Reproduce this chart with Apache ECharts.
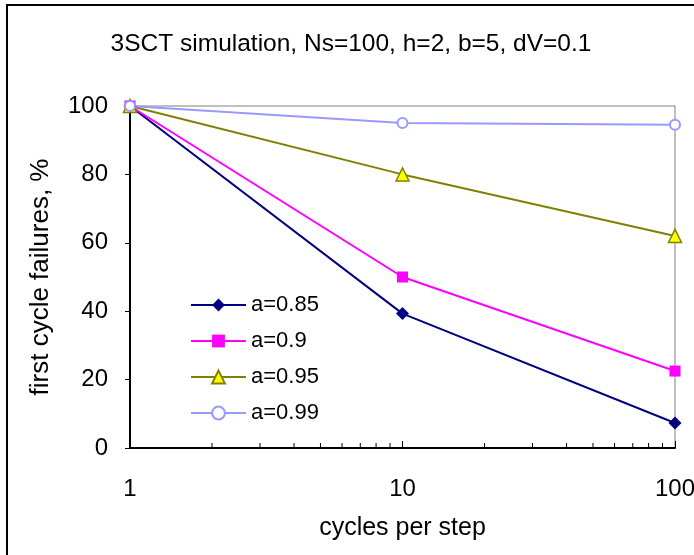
<!DOCTYPE html>
<html>
<head>
<meta charset="utf-8">
<script src="https://cdn.jsdelivr.net/npm/echarts@6/dist/echarts.min.js"></script>
<style>
  html, body { margin: 0; padding: 0; background: #fff; }
  #chart { width: 694px; height: 555px; }
</style>
</head>
<body>
<div id="chart"></div>
<script>
// Cycles per step (log scale) and first-cycle failure percentages per "a" value
const cyclesPerStep = [1, 10, 100];
const seriesNames = ['a=0.85', 'a=0.9', 'a=0.95', 'a=0.99'];
const failuresA085 = [100, 39.3, 7.3];
const failuresA090 = [100, 50, 22.5];
const failuresA095 = [100, 80, 62];
const failuresA099 = [100, 95, 94.5];
// Intermediate log-axis tick positions
const minorTickValues = [2, 3, 4, 5, 6, 7, 8, 9, 20, 30, 40, 50, 60, 70, 80, 90];

const FONT = '"Liberation Sans", Arial, sans-serif';

function pairs(values) {
  return cyclesPerStep.map((x, i) => [x, values[i]]);
}

const chart = echarts.init(document.getElementById('chart'), null, { renderer: 'canvas' });

const lineBase = {
  type: 'line',
  lineStyle: { width: 2 },
  emphasis: { disabled: true },
  z: 3
};

chart.setOption({
  animation: false,
  backgroundColor: '#fff',
  textStyle: { fontFamily: FONT },
  title: {
    text: '3SCT simulation, Ns=100, h=2, b=5, dV=0.1',
    left: 351,
    top: 32,
    textAlign: 'center',
    padding: 0,
    textStyle: { fontFamily: FONT, fontSize: 24.5, fontWeight: 'normal', color: '#000' }
  },
  graphic: [{
    type: 'rect',
    shape: { x: 7, y: 5, width: 800, height: 800 },
    style: { fill: null, stroke: '#000', lineWidth: 2 },
    silent: true,
    z: 10
  }],
  legend: {
    data: seriesNames,
    orient: 'vertical',
    left: 190,
    top: 294,
    itemWidth: 55,
    itemHeight: 16,
    itemGap: 14,
    padding: 0,
    textStyle: { fontFamily: FONT, fontSize: 22, color: '#000' }
  },
  grid: {
    left: 130, right: 19, top: 106, bottom: 107,
    outerBoundsMode: 'none',
    containLabel: false,
    show: true,
    borderColor: '#808080',
    borderWidth: 1,
    backgroundColor: '#fff'
  },
  xAxis: {
    type: 'log',
    logBase: 10,
    min: 1,
    max: 100,
    name: 'cycles per step',
    nameLocation: 'middle',
    nameGap: 68,
    nameTextStyle: { fontFamily: FONT, fontSize: 25, color: '#000' },
    axisLine: { lineStyle: { color: '#000', width: 2 } },
    axisTick: { inside: true, length: 7, lineStyle: { color: '#000', width: 1 } },
    axisLabel: { fontFamily: FONT, fontSize: 24, color: '#000', margin: 29 },
    splitLine: { show: false }
  },
  yAxis: {
    type: 'value',
    min: 0,
    max: 100,
    interval: 20,
    name: 'first cycle failures, %',
    nameLocation: 'middle',
    nameGap: 76,
    nameTextStyle: { fontFamily: FONT, fontSize: 26, color: '#000' },
    axisLine: { show: true, lineStyle: { color: '#000', width: 2 } },
    axisTick: { show: true, inside: false, length: 5, lineStyle: { color: '#000', width: 1 } },
    axisLabel: { fontFamily: FONT, fontSize: 24, color: '#000', margin: 22 },
    splitLine: { show: false }
  },
  series: [
    Object.assign({}, lineBase, {
      name: seriesNames[0],
      data: pairs(failuresA085),
      symbol: 'diamond',
      symbolSize: 13,
      itemStyle: { color: '#000080' },
      lineStyle: { color: '#000080', width: 2 }
    }),
    Object.assign({}, lineBase, {
      name: seriesNames[1],
      data: pairs(failuresA090),
      symbol: 'rect',
      symbolSize: 11,
      itemStyle: { color: '#FF00FF' },
      lineStyle: { color: '#FF00FF', width: 2 }
    }),
    Object.assign({}, lineBase, {
      name: seriesNames[2],
      data: pairs(failuresA095),
      symbol: 'triangle',
      symbolSize: 13,
      itemStyle: { color: '#FFFF00', borderColor: '#808000', borderWidth: 1.5 },
      lineStyle: { color: '#808000', width: 2 }
    }),
    Object.assign({}, lineBase, {
      name: seriesNames[3],
      data: pairs(failuresA099),
      symbol: 'emptyCircle',
      symbolSize: 10,
      itemStyle: { color: '#9999FF', borderColor: '#9999FF', borderWidth: 1.5 },
      lineStyle: { color: '#9999FF', width: 2 }
    }),
    {
      // short upward ticks at 2..9 and 20..90 on the bottom axis
      type: 'custom',
      name: 'minorTicks',
      coordinateSystem: 'cartesian2d',
      silent: true,
      z: 4,
      data: minorTickValues.map(v => [v, 0]),
      renderItem: function (params, api) {
        const p = api.coord([api.value(0), 0]);
        return {
          type: 'line',
          shape: { x1: p[0], y1: p[1], x2: p[0], y2: p[1] - 5 },
          style: { stroke: '#000', lineWidth: 1 }
        };
      }
    }
  ]
});
</script>
</body>
</html>
